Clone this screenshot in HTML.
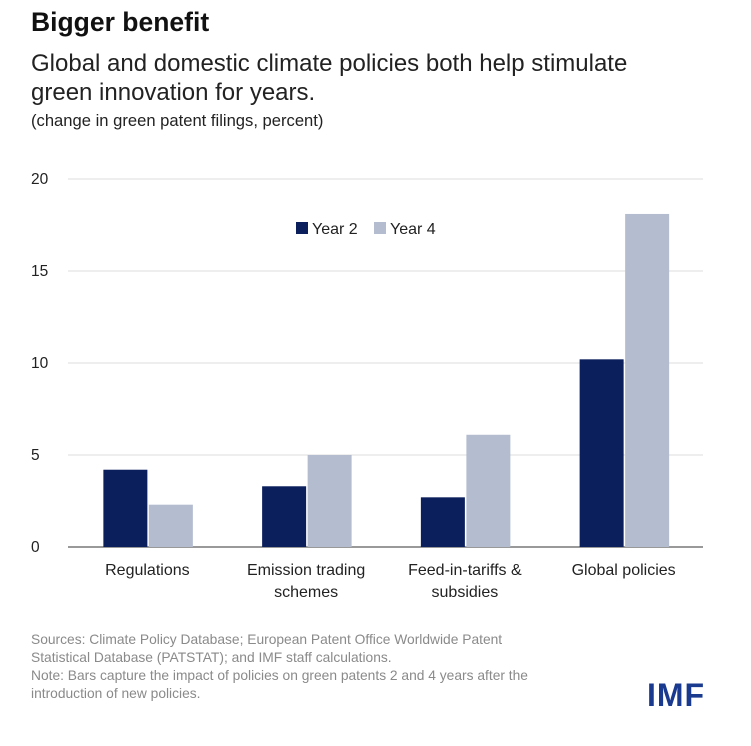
<!DOCTYPE html>
<html><head><meta charset="utf-8"><style>
body{margin:0;background:#fff;font-family:"Liberation Sans",sans-serif;}
#wrap{position:relative;width:751px;height:746px;overflow:hidden;background:#fff}
.t{position:absolute;white-space:nowrap;color:#222}
</style></head><body>
<div id="wrap">
<div class="t" style="left:31px;top:7px;font-size:26.5px;font-weight:bold;color:#111">Bigger benefit</div>
<div class="t" style="left:31px;top:49px;font-size:24px;line-height:29px;color:#222">Global and domestic climate policies both help stimulate<br>green innovation for years.</div>
<div class="t" style="left:31px;top:111px;font-size:16.6px;color:#222">(change in green patent filings, percent)</div>
<svg id="chart" width="751" height="746" style="position:absolute;left:0;top:0"></svg>
<div class="t" style="left:31px;top:631px;font-size:13.8px;line-height:18px;color:#8a8a8a">Sources: Climate Policy Database; European Patent Office Worldwide Patent<br>Statistical Database (PATSTAT); and IMF staff calculations.<br>Note: Bars capture the impact of policies on green patents 2 and 4  years after the<br>introduction of new policies.</div>
<div class="t" style="left:647px;top:677px;font-size:32px;font-weight:bold;color:#1a3a8f;letter-spacing:1px">IMF</div>
</div>
<script>
const categories=[["Regulations"],["Emission trading","schemes"],["Feed-in-tariffs &","subsidies"],["Global policies"]];
const year2=[4.2,3.3,2.7,10.2];
const year4=[2.3,5.0,6.1,18.1];
const yTicks=[0,5,10,15,20];
const seriesNames=["Year 2","Year 4"];
const NS="http://www.w3.org/2000/svg";
const svg=document.getElementById('chart');
const x0=68,x1=703,yBase=547,yTop=179,yMax=20;
const y=v=>yBase-(v/yMax)*(yBase-yTop);
const bw=(x1-x0)/categories.length;
const cx=i=>x0+bw*(i+0.5);
function mk(tag,attrs){const e=document.createElementNS(NS,tag);for(const k in attrs)e.setAttribute(k,attrs[k]);svg.appendChild(e);return e;}
yTicks.forEach(t=>{
 const l=mk('line',{x1:x0,x2:x1,y1:y(t),y2:y(t),stroke:t===0?'#333':'#dcdcdc','stroke-width':1});
 
 
 const tx=mk('text',{x:31,y:y(t)+5,'font-size':15.5,fill:'#222','font-family':'Liberation Sans, sans-serif'});
 tx.textContent=t;
 
 
});
const colors=['#0b1f5c','#b4bdd0'];
categories.forEach((c,i)=>{
 [year2,year4].forEach((s,j)=>{
  const bx=j===0?cx(i)-44:cx(i)+1.5;
  const r=mk('rect',{x:bx,y:y(s[i]),width:44,height:yBase-y(s[i]),fill:colors[j]});
  
  
 });
 c.forEach((ln,k)=>{
  const tx=mk('text',{x:cx(i),y:575+k*22,'font-size':16,fill:'#222','text-anchor':'middle','font-family':'Liberation Sans, sans-serif'});
  tx.textContent=ln;
  
  
 });
});
seriesNames.forEach((n,j)=>{
 const lx=j===0?296:374;
 const r=mk('rect',{x:lx,y:222,width:12,height:12,fill:colors[j]});
 
 
 const tx=mk('text',{x:lx+16,y:234,'font-size':16,fill:'#222','font-family':'Liberation Sans, sans-serif'});
 tx.textContent=n;
 
 
});
</script>
</body></html>
